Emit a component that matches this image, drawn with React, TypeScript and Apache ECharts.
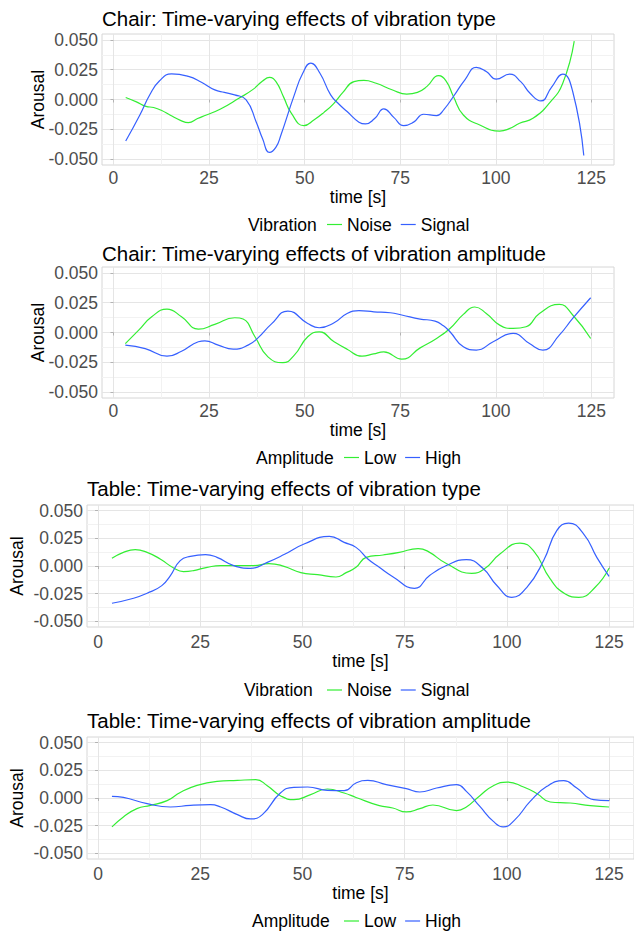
import React, { useEffect, useRef } from "react";
import * as echarts from "echarts";

const FONT = "'Liberation Sans', Arial, Helvetica, sans-serif";
const GREEN = "#33ee33";
const BLUE = "#3660ff";

const panelTitles = [
  "Chair: Time-varying effects of vibration type",
  "Chair: Time-varying effects of vibration amplitude",
  "Table: Time-varying effects of vibration type",
  "Table: Time-varying effects of vibration amplitude",
];
const legendTitles = ["Vibration", "Amplitude", "Vibration", "Amplitude"];
const legendNames = [["Noise", "Signal"], ["Low", "High"], ["Noise", "Signal"], ["Low", "High"]];

const xMajorTicks = [0, 25, 50, 75, 100, 125];
const xMinorTicks = [12.5, 37.5, 62.5, 87.5, 112.5];
const yMajorTicks = [-0.05, -0.025, 0, 0.025, 0.05];
const yMinorTicks = [-0.0375, -0.0125, 0.0125, 0.0375];

// Chair: vibration type
const chairNoiseT = [3.2, 6, 8.5, 10.5, 12.5, 15, 17.5, 19.6, 22, 24.3, 28, 32.8, 36.5, 39, 40.8, 42.5, 44.5, 46.5, 49.8, 52.5, 55, 57.6, 60, 62.9, 65.5, 68.7, 73, 76.7, 79.5, 82, 85, 87, 88.9, 91.5, 95.8, 101, 103.5, 106.2, 109.7, 114, 117.5, 120.5];
const chairNoiseV = [0.0017, -0.002, -0.0058, -0.0067, -0.009, -0.0135, -0.0175, -0.0194, -0.016, -0.013, -0.008, 0.001, 0.0085, 0.0155, 0.0185, 0.015, 0.002, -0.0115, -0.0219, -0.017, -0.011, -0.0034, 0.006, 0.015, 0.016, 0.0136, 0.008, 0.0045, 0.006, 0.011, 0.02, 0.0155, 0.0025, -0.013, -0.0214, -0.0265, -0.0245, -0.02, -0.0158, -0.003, 0.0137, 0.049];
const chairSignalT = [3.2, 6.9, 9.5, 12, 15.2, 19.6, 23, 26.5, 29, 31.7, 34.7, 37.3, 39, 40.8, 42.5, 43.8, 47.3, 49.5, 51.6, 54, 56.8, 59, 61.1, 64.2, 65.9, 68.3, 70.7, 73.3, 75.9, 78.5, 81.1, 84.5, 86.5, 88.9, 92, 94.9, 97.5, 100.1, 103.6, 106.5, 109, 111.8, 114.5, 117.5, 120.1, 123];
const chairSignalV = [-0.0349, -0.013, 0.004, 0.0155, 0.0216, 0.0194, 0.0145, 0.0081, 0.006, 0.0039, -0.0003, -0.0186, -0.033, -0.0444, -0.04, -0.0298, 0.0039, 0.022, 0.0306, 0.022, 0.0039, -0.004, -0.0101, -0.019, -0.0205, -0.016, -0.0079, -0.015, -0.0219, -0.019, -0.0124, -0.0135, -0.008, 0.0025, 0.017, 0.027, 0.0235, 0.0171, 0.0213, 0.015, 0.005, -0.0012, 0.01, 0.0213, 0.0067, -0.047];

// Chair: vibration amplitude
const chairLowT = [3.1, 6.6, 10, 14, 17.8, 22.2, 26.5, 31.7, 33.9, 37, 40.4, 44.3, 47.3, 50.8, 53.8, 57.7, 61.1, 65, 68, 70.7, 75.4, 80.2, 84.5, 88, 91.5, 94.5, 97.5, 101, 104.5, 107.9, 111.4, 116.6, 120.1, 124.8];
const chairLowV = [-0.0093, 0.002, 0.0132, 0.0197, 0.0132, 0.0028, 0.0068, 0.0124, 0.0113, -0.0036, -0.0205, -0.0253, -0.019, -0.0036, 0.0006, -0.0078, -0.014, -0.0199, -0.018, -0.0163, -0.0224, -0.0129, -0.005, 0.0034, 0.0152, 0.0214, 0.016, 0.0062, 0.0034, 0.0048, 0.016, 0.0236, 0.0147, -0.005];
const chairHighT = [3.1, 8.3, 14, 17.8, 22.2, 23.9, 27.4, 31.3, 35.2, 37.8, 41.2, 45.6, 50.8, 53.8, 57.7, 61.1, 64.2, 68.1, 72.4, 75.4, 80.2, 84.1, 86.3, 88, 91.5, 94.9, 99.3, 104.5, 108.8, 112.3, 116.6, 120.1, 124.8];
const chairHighV = [-0.0106, -0.0135, -0.0199, -0.0157, -0.0078, -0.007, -0.0106, -0.014, -0.0106, -0.0045, 0.0068, 0.018, 0.0076, 0.004, 0.0082, 0.016, 0.0183, 0.0174, 0.0166, 0.0147, 0.0113, 0.0096, 0.0056, 0.0006, -0.012, -0.0148, -0.0078, -0.0008, -0.0093, -0.0148, -0.0022, 0.0118, 0.0292];

// Table: vibration type
const tableNoiseT = [3.4, 6.2, 9.1, 12, 15.2, 18.5, 20.9, 23.4, 26.7, 30, 34.1, 38.1, 41.8, 45.5, 49.6, 53.7, 58.2, 60.7, 63.1, 65.6, 69.7, 73.7, 78.3, 80.7, 85.2, 91.4, 94.6, 98.3, 103.2, 106.5, 110.6, 114.3, 117.6, 121.6, 125];
const tableNoiseV = [0.0069, 0.0123, 0.0148, 0.0123, 0.0063, -0.0018, -0.005, -0.0041, -0.0012, 0.0004, 0.0004, 0.0004, 0.0022, -0.0003, -0.006, -0.0078, -0.0099, -0.006, -0.0012, 0.0078, 0.0099, 0.0123, 0.0157, 0.0132, 0.0022, -0.0066, -0.0023, 0.0108, 0.0207, 0.0139, -0.0117, -0.0252, -0.0282, -0.0192, -0.0021];
const tableSignalT = [3.4, 8.7, 12, 15.6, 17.7, 20.1, 22.6, 26.3, 29.1, 33.2, 37.3, 41.4, 45.5, 50.4, 56.6, 60.2, 63.1, 66, 68.8, 72.1, 77.4, 81.1, 85.2, 90.1, 94.2, 97.5, 101.2, 104.9, 109, 112.2, 115.1, 118.8, 122, 125];
const tableSignalV = [-0.0336, -0.0291, -0.0246, -0.0177, -0.0086, 0.0049, 0.0087, 0.0103, 0.0078, 0.0004, -0.0021, 0.0033, 0.0103, 0.0198, 0.0267, 0.0213, 0.0168, 0.0063, -0.0012, -0.0096, -0.0201, -0.0086, 0.0004, 0.0058, -0.0023, -0.0174, -0.0282, -0.0192, 0.0049, 0.0319, 0.0387, 0.0288, 0.0078, -0.0093];

// Table: vibration amplitude
const tableLowT = [3.4, 6.2, 9.5, 12.8, 16.9, 20.1, 24.2, 29.1, 34.1, 38.6, 41.4, 44.6, 47.9, 52, 56.1, 60.2, 63.1, 68.8, 72.1, 75.4, 78.7, 81.9, 87.7, 90.1, 93.4, 96.7, 100.1, 104.1, 107.4, 110.6, 115.5, 120.4, 125];
const tableLowV = [-0.0261, -0.0171, -0.0096, -0.0066, -0.0024, 0.005, 0.0114, 0.015, 0.0159, 0.0165, 0.0111, 0.0021, -0.0015, 0.003, 0.0081, 0.0045, 0.0005, -0.0069, -0.009, -0.0126, -0.0096, -0.0063, -0.0114, -0.0081, 0.0021, 0.0111, 0.0144, 0.0099, 0.0039, -0.0036, -0.0045, -0.0069, -0.0081];
const tableHighT = [3.4, 6.2, 12, 17.7, 22.6, 27.5, 30, 34.1, 37.3, 40.2, 44.6, 47.9, 51.3, 56.1, 60.2, 63.1, 66, 70.5, 75.4, 78.7, 82.8, 87.7, 90.1, 93.4, 96.7, 99.1, 102, 105.7, 109.8, 113.9, 117.1, 121.2, 125];
const tableHighV = [0.0015, 0.0005, -0.0051, -0.0081, -0.0066, -0.006, -0.0081, -0.015, -0.0189, -0.015, 0.0045, 0.0096, 0.0099, 0.0069, 0.0066, 0.0135, 0.0159, 0.012, 0.0084, 0.0054, 0.009, 0.012, 0.006, -0.0076, -0.0211, -0.0261, -0.0195, -0.0031, 0.0105, 0.0156, 0.009, -0.0015, -0.0024];

const zip = (t: number[], v: number[]) => t.map((x, i) => [x, v[i]]);

const panelSeries = [
  [zip(chairNoiseT, chairNoiseV), zip(chairSignalT, chairSignalV)],
  [zip(chairLowT, chairLowV), zip(chairHighT, chairHighV)],
  [zip(tableNoiseT, tableNoiseV), zip(tableSignalT, tableSignalV)],
  [zip(tableLowT, tableLowV), zip(tableHighT, tableHighV)],
];

// layout (pixels)
const grids = [
  { left: 102, top: 34, width: 512, height: 131 },
  { left: 102, top: 267, width: 512, height: 131 },
  { left: 87, top: 505, width: 547, height: 122 },
  { left: 87, top: 737, width: 547, height: 122 },
];
const xRange = [[-3.0, 130.9], [-3.0, 130.9], [-2.7, 131.1], [-2.7, 131.1]];
const titlePos = [[102, 18.5], [102, 253.5], [87, 488], [87, 720]];
const yNamePos = [38, 38, 17, 17];
const legendTitlePos = [[248, 224.5], [256, 457.5], [244, 690], [252, 921]];
const legendLeft = [327, 344, 327, 344];
const xLabelMargin = [4, 4, 6, 6];
const xNameGap = [21, 21, 24, 25];
const LINE_ICON = "path://M0,0H100V8H0Z";

export default function App() {
  const ref = useRef<HTMLDivElement>(null);
  useEffect(() => {
    if (!ref.current) return;
    const chart = echarts.init(ref.current, null, { renderer: "svg" });
    const xAxis: any[] = [];
    const yAxis: any[] = [];
    const series: any[] = [];
    const legend: any[] = [];
    const graphic: any[] = [];
    grids.forEach((g, i) => {
      const [xmin, xmax] = xRange[i];
      xAxis.push({
        type: "value", gridIndex: i, min: xmin, max: xmax, position: "bottom",
        name: "time [s]", nameLocation: "middle", nameGap: xNameGap[i],
        nameTextStyle: { fontSize: 17.5, color: "#000", fontFamily: FONT },
        axisLine: { show: false },
        axisTick: { show: true, customValues: xMajorTicks, length: 3, lineStyle: { color: "#b3b3b3" } },
        axisLabel: { customValues: xMajorTicks, fontSize: 17.5, color: "#4d4d4d", fontFamily: FONT, margin: xLabelMargin[i] },
        splitLine: { show: true, lineStyle: { color: "#e5e5e5", width: 1 } },
      });
      xAxis.push({
        type: "value", gridIndex: i, min: xmin, max: xmax, position: "top",
        axisLine: { show: false },
        axisTick: { show: false, customValues: xMinorTicks },
        axisLabel: { show: false, customValues: xMinorTicks },
        splitLine: { show: true, lineStyle: { color: "#f2f2f2", width: 1 } },
      });
      yAxis.push({
        type: "value", gridIndex: i, min: -0.055, max: 0.055, position: "left",
        axisLine: { show: false },
        axisTick: { show: true, customValues: yMajorTicks, length: 3, lineStyle: { color: "#b3b3b3" } },
        axisLabel: {
          customValues: yMajorTicks, fontSize: 17.5, color: "#4d4d4d", fontFamily: FONT, margin: 4,
          formatter: (v: number) => v.toFixed(3),
        },
        splitLine: { show: true, lineStyle: { color: "#e5e5e5", width: 1 } },
      });
      yAxis.push({
        type: "value", gridIndex: i, min: -0.055, max: 0.055, position: "right",
        axisLine: { show: false },
        axisTick: { show: false, customValues: yMinorTicks },
        axisLabel: { show: false, customValues: yMinorTicks },
        splitLine: { show: true, lineStyle: { color: "#f2f2f2", width: 1 } },
      });
      const [n0, n1] = legendNames[i];
      [n0, n1].forEach((name, k) => {
        series.push({
          type: "line", name, xAxisIndex: 2 * i, yAxisIndex: 2 * i,
          data: panelSeries[i][k], smooth: 0.5,
          symbol: "none", showSymbol: false,
          lineStyle: { color: k === 0 ? GREEN : BLUE, width: 1.2 },
          itemStyle: { color: k === 0 ? GREEN : BLUE },
          z: 3,
        });
      });
      legend.push({
        data: [n0, n1], left: legendLeft[i], top: legendTitlePos[i][1] - 9,
        orient: "horizontal", icon: LINE_ICON, itemWidth: 15, itemHeight: 18, itemGap: 9, padding: 0,
        textStyle: { fontSize: 17.5, color: "#000", fontFamily: FONT },
        selectedMode: false,
      });
      graphic.push({
        type: "text", x: titlePos[i][0], y: titlePos[i][1],
        style: { text: panelTitles[i], fill: "#000", fontSize: 20.5, fontFamily: FONT, align: "left", verticalAlign: "middle" },
      });
      graphic.push({
        type: "text", x: yNamePos[i], y: g.top + g.height / 2, rotation: Math.PI / 2,
        style: { text: "Arousal", fill: "#000", fontSize: 17.5, fontFamily: FONT, align: "center", verticalAlign: "middle" },
      });
      graphic.push({
        type: "text", x: legendTitlePos[i][0], y: legendTitlePos[i][1],
        style: { text: legendTitles[i], fill: "#000", fontSize: 17.5, fontFamily: FONT, align: "left", verticalAlign: "middle" },
      });
    });
    chart.setOption({
      animation: false,
      backgroundColor: "#ffffff",
      textStyle: { fontFamily: FONT },
      grid: grids.map((g) => ({ ...g, show: true, borderColor: "#d6d6d6", borderWidth: 1, backgroundColor: "transparent", containLabel: false })),
      xAxis, yAxis, series, legend, graphic,
    });
    return () => chart.dispose();
  }, []);
  return <div ref={ref} style={{ position: "absolute", left: 0, top: 0, width: 634, height: 932 }} />;
}
